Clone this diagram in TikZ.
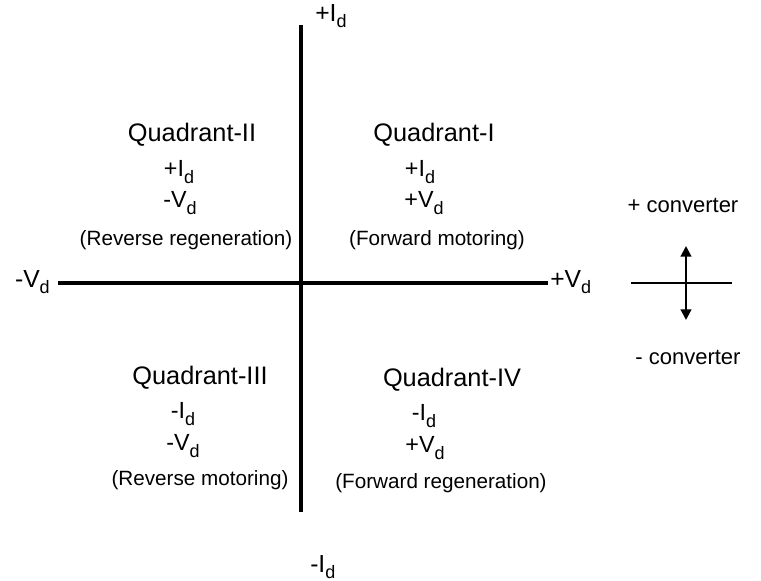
\documentclass[tikz,border=0pt]{standalone}
\usepackage{fontspec}
\setmainfont{Liberation Sans}
\usetikzlibrary{arrows.meta}
\newcommand{\sbd}{\raisebox{-0.5ex}{\fontsize{13.5}{15}\selectfont d}}
\begin{document}
\begin{tikzpicture}[x=0.75pt,y=-0.75pt,
  ttl/.style={font=\fontsize{19}{21}\selectfont, inner sep=0pt, align=center},
  lbl/.style={font=\fontsize{17.5}{19}\selectfont, inner sep=0pt, align=center},
  axl/.style={font=\fontsize{18.5}{20}\selectfont, inner sep=0pt, align=center},
  par/.style={font=\fontsize{15.5}{18}\selectfont, inner sep=0pt, align=center},
  cnv/.style={font=\fontsize{16.5}{18}\selectfont, inner sep=0pt, align=center},
  axis/.style={line width=3pt},
  thin axis/.style={line width=2.2pt},
  arr/.style={line width=1.6pt,-{Triangle[length=8pt,width=8pt]}}]
\useasboundingbox (0,0) rectangle (761,581);
% axes
\coordinate (vt) at (301,25);
\coordinate (vb) at (301,512);
\coordinate (hl) at (58,283);
\coordinate (hr) at (548,283);
\draw[axis] (vt) -- (vb);
\draw[axis] (hl) -- (hr);
% axis labels
\node[axl, anchor=west] (pid) at (315,16) {+I\sbd};
\node[axl, anchor=east] (mvd) at (50,282) {-V\sbd};
\node[axl, anchor=west] (pvd) at (550,282) {+V\sbd};
\node[axl, anchor=west] (mid) at (310,567) {-I\sbd};
% quadrant I
\node[ttl] (q1) at (434,135) {Quadrant-I};
\node[lbl] (q1a) at (420,172) {+I\sbd};
\node[lbl] (q1b) at (424,203) {+V\sbd};
\node[par] (q1c) at (437,240) {(Forward motoring)};
% quadrant II
\node[ttl] (q2) at (192,135) {Quadrant-II};
\node[lbl] (q2a) at (179,172) {+I\sbd};
\node[lbl] (q2b) at (180,203) {-V\sbd};
\node[par] (q2c) at (186,240) {(Reverse regeneration)};
% quadrant III
\node[ttl] (q3) at (200,378) {Quadrant-III};
\node[lbl] (q3a) at (183,414) {-I\sbd};
\node[lbl] (q3b) at (183,446) {-V\sbd};
\node[par] (q3c) at (200,480) {(Reverse motoring)};
% quadrant IV
\node[ttl] (q4) at (452,380) {Quadrant-IV};
\node[lbl] (q4a) at (424,416) {-I\sbd};
\node[lbl] (q4b) at (425,448) {+V\sbd};
\node[par] (q4c) at (441,483) {(Forward regeneration)};
% converter legend
\node[cnv] (pc) at (683,205) {+ converter};
\node[cnv] (nc) at (688,357) {- converter};
\coordinate (cl) at (631,283);
\coordinate (cr) at (732,283);
\coordinate (cc) at (686,283);
\coordinate (cu) at (686,246);
\coordinate (cd) at (686,320);
\draw[thin axis] (cl) -- (cr);
\draw[arr] (cc) -- (cu);
\draw[arr] (cc) -- (cd);
\end{tikzpicture}
\end{document}
